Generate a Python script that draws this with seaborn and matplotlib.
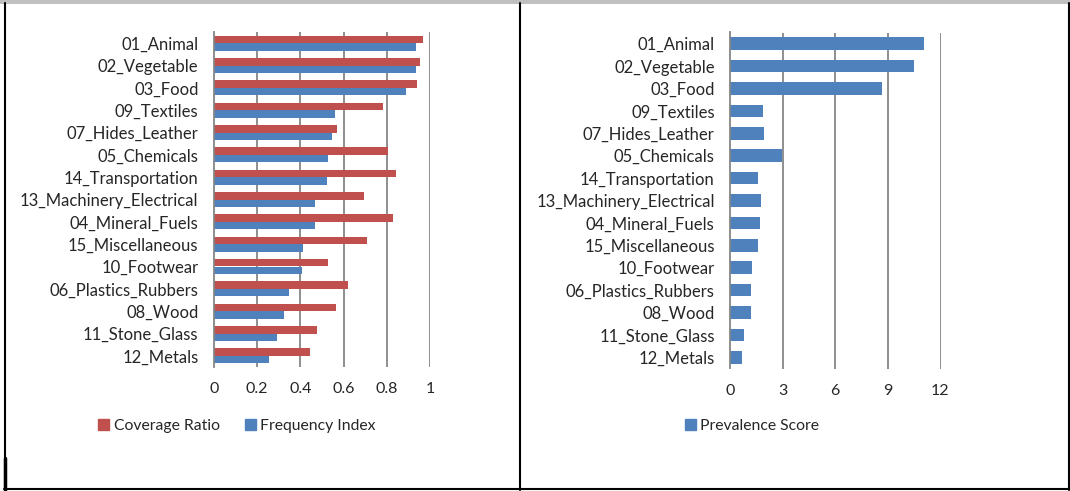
import pandas as pd
import matplotlib
matplotlib.use("Agg")
import matplotlib.pyplot as plt
from matplotlib.patches import Patch, Rectangle
from matplotlib.lines import Line2D
import seaborn as sns

# Data
categories = ["01_Animal", "02_Vegetable", "03_Food", "09_Textiles", "07_Hides_Leather",
              "05_Chemicals", "14_Transportation", "13_Machinery_Electrical", "04_Mineral_Fuels",
              "15_Miscellaneous", "10_Footwear", "06_Plastics_Rubbers", "08_Wood",
              "11_Stone_Glass", "12_Metals"]
coverage_ratio = [0.965, 0.955, 0.938, 0.782, 0.570, 0.806, 0.841, 0.693, 0.827,
                  0.710, 0.527, 0.620, 0.564, 0.475, 0.446]
frequency_index = [0.935, 0.933, 0.890, 0.559, 0.545, 0.527, 0.522, 0.470, 0.470,
                   0.411, 0.406, 0.349, 0.323, 0.293, 0.253]
prevalence_score = [11.08, 10.50, 8.68, 1.90, 1.96, 2.96, 1.62, 1.78, 1.70,
                    1.62, 1.26, 1.18, 1.22, 0.82, 0.68]

left_ticks = [0, 0.2, 0.4, 0.6, 0.8, 1]
left_ticklabels = ["0", "0.2", "0.4", "0.6", "0.8", "1"]
right_ticks = [0, 3, 6, 9, 12]

RED = "#C0504D"
BLUE = "#4F81BD"
GRID = "#868686"

sns.set_style("white")
plt.rcParams["font.family"] = ["Lato", "DejaVu Sans"]
plt.rcParams["font.size"] = 11

df_left = pd.DataFrame({
    "category": categories * 2,
    "value": coverage_ratio + frequency_index,
    "series": ["Coverage Ratio"] * len(categories) + ["Frequency Index"] * len(categories),
})
df_right = pd.DataFrame({"category": categories, "value": prevalence_score})

W, H = 1070, 491
fig = plt.figure(figsize=(W / 100, H / 100), dpi=100)

ax1 = fig.add_axes([213.8 / W, 1 - 367 / H, 216.3 / W, 335 / H])
ax2 = fig.add_axes([730 / W, 1 - 368.5 / H, 210.5 / W, 336 / H])

sns.barplot(data=df_left, x="value", y="category", hue="series", order=categories,
            hue_order=["Coverage Ratio", "Frequency Index"], palette=[RED, BLUE],
            width=0.68, ax=ax1, legend=False, linewidth=0, saturation=1)
sns.barplot(data=df_right, x="value", y="category", order=categories, color=BLUE,
            width=0.57, ax=ax2, linewidth=0, saturation=1)

for ax, ticks in [(ax1, left_ticks), (ax2, right_ticks)]:
    ax.set_xlim(ticks[0], ticks[-1])
    ax.set_xticks(ticks)
    ax.set_xlabel("")
    ax.set_ylabel("")
    for t in ticks[1:]:
        ax.axvline(t, color=GRID, lw=1.3, zorder=0)
    for s in ["top", "right", "bottom"]:
        ax.spines[s].set_visible(False)
    ax.spines["left"].set_color(GRID)
    ax.spines["left"].set_linewidth(1.3)
    ax.tick_params(axis="y", length=0, pad=11, labelsize=12)
    ax.tick_params(axis="x", length=3, width=1.3, color=GRID, pad=8, labelsize=11.5)
    ax.set_facecolor("none")

ax1.set_xticklabels(left_ticklabels)

fig.legend(handles=[Patch(color=RED, label="Coverage Ratio"),
                    Patch(color=BLUE, label="Frequency Index")],
           loc="center", bbox_to_anchor=(237 / W, 1 - 426 / H), ncol=2, frameon=False,
           handlelength=0.7, handleheight=0.7, handletextpad=0.3, columnspacing=1.6,
           fontsize=11.3)
fig.legend(handles=[Patch(color=BLUE, label="Prevalence Score")],
           loc="center", bbox_to_anchor=(752 / W, 1 - 426 / H), frameon=False,
           handlelength=0.7, handleheight=0.7, handletextpad=0.3, fontsize=11.3)

# table-cell borders around the two charts
def px_line(x0, y0, x1, y1, lw=1.5):
    fig.add_artist(Line2D([x0 / W, x1 / W], [1 - y0 / H, 1 - y1 / H], color="black", lw=lw))

fig.add_artist(Rectangle((0, 1 - 3.5 / H), 1, 3.5 / H, color="#C0C0C0", lw=0))
px_line(4.8, 3, 4.8, 490)
px_line(5.2, 458, 5.2, 490, lw=2.5)
px_line(520.3, 3, 520.3, 490)
px_line(1068.5, 3, 1068.5, 490)
px_line(4, 489.3, 1069, 489.3)

fig.savefig("out.png", dpi=100)
